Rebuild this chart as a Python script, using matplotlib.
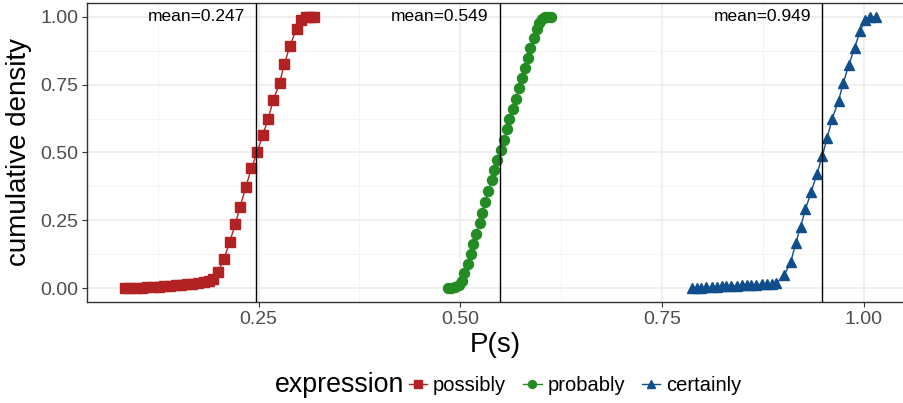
#!/usr/bin/env python3

import matplotlib
matplotlib.use("Agg")
import matplotlib.pyplot as plt
from matplotlib.lines import Line2D
from matplotlib.ticker import MultipleLocator

# --- data ---
expressions = ["possibly", "probably", "certainly"]
means = [0.247, 0.549, 0.949]

possibly_p = [0.084, 0.091, 0.098, 0.105, 0.112, 0.119, 0.126, 0.133, 0.140,
              0.147, 0.154, 0.161, 0.168, 0.175, 0.182, 0.189, 0.194,
              0.200, 0.207, 0.214, 0.221, 0.227, 0.234, 0.241, 0.248, 0.255,
              0.262, 0.268, 0.276, 0.282, 0.289, 0.297, 0.303, 0.309, 0.314, 0.319]
possibly_cd = [0.000, 0.000, 0.001, 0.002, 0.003, 0.004, 0.005, 0.006, 0.008,
               0.010, 0.012, 0.014, 0.017, 0.020, 0.023, 0.027, 0.033,
               0.061, 0.107, 0.169, 0.235, 0.300, 0.372, 0.441, 0.500, 0.563,
               0.625, 0.692, 0.756, 0.828, 0.894, 0.957, 0.990, 1.000, 1.000, 1.000]

probably_p = [0.485, 0.489, 0.494, 0.498, 0.502, 0.505, 0.509, 0.513, 0.516,
              0.520, 0.524, 0.527, 0.531, 0.535, 0.539, 0.542, 0.546, 0.550,
              0.554, 0.558, 0.561, 0.565, 0.569, 0.573, 0.576, 0.580, 0.584,
              0.587, 0.591, 0.595, 0.598, 0.601, 0.605, 0.609, 0.613]
probably_cd = [0.000, 0.000, 0.004, 0.012, 0.027, 0.055, 0.089, 0.125, 0.163,
               0.201, 0.239, 0.278, 0.318, 0.357, 0.397, 0.434, 0.472, 0.509,
               0.547, 0.585, 0.622, 0.660, 0.698, 0.736, 0.774, 0.810, 0.847,
               0.885, 0.921, 0.954, 0.977, 0.991, 0.999, 1.000, 1.000]

certainly_p = [0.787, 0.793, 0.799, 0.805, 0.812, 0.818, 0.824, 0.830, 0.836,
               0.843, 0.849, 0.855, 0.861, 0.867, 0.874, 0.880, 0.886, 0.892,
               0.902, 0.910, 0.916, 0.922, 0.928, 0.935, 0.942, 0.949, 0.955,
               0.961, 0.969, 0.975, 0.982, 0.989, 0.996, 1.002, 1.008, 1.016]
certainly_cd = [0.000, 0.001, 0.002, 0.003, 0.004, 0.005, 0.006, 0.007, 0.008,
                0.009, 0.010, 0.011, 0.012, 0.013, 0.014, 0.015, 0.016, 0.018,
                0.049, 0.098, 0.166, 0.227, 0.291, 0.353, 0.419, 0.488, 0.554,
                0.623, 0.690, 0.758, 0.824, 0.887, 0.948, 0.990, 1.000, 1.000]

x_ticks = [0.25, 0.50, 0.75, 1.00]
y_ticks = [0.00, 0.25, 0.50, 0.75, 1.00]

colors = ["#B22222", "#228B22", "#104E8B"]
markers = ["s", "o", "^"]
msizes = [7.0, 7.2, 7.8]


def main() -> int:
    plt.rcParams["font.family"] = ["Liberation Sans", "DejaVu Sans"]

    fig = plt.figure(figsize=(9.04, 4.03), dpi=100)
    ax = fig.add_axes([0.0966, 0.2514, 0.9034, 0.7404])

    series = [
        (possibly_p, possibly_cd),
        (probably_p, probably_cd),
        (certainly_p, certainly_cd),
    ]

    # grid first so it sits under everything
    ax.set_axisbelow(True)
    ax.xaxis.set_minor_locator(MultipleLocator(0.125))
    ax.yaxis.set_minor_locator(MultipleLocator(0.125))
    ax.grid(which="major", color="#EBEBEB", lw=1.1)
    ax.grid(which="minor", color="#F2F2F2", lw=0.6)

    for (xs, ys), c, m, ms in zip(series, colors, markers, msizes):
        ax.plot(xs, ys, color=c, lw=1.0, marker=m, ms=ms, mec=c, mfc=c, zorder=3)

    for mu in means:
        ax.axvline(mu, color="black", lw=1.0, zorder=4)
        ax.annotate(f"mean={mu:.3f}", xy=(mu, 1.0), xytext=(-8, 0),
                    textcoords="offset points", ha="right", va="center",
                    fontsize=12.5, color="black")

    ax.set_xlim(0.0376, 1.0502)
    ax.set_ylim(-0.05, 1.05)
    ax.set_xticks(x_ticks, [f"{v:.2f}" for v in x_ticks])
    ax.set_yticks(y_ticks, [f"{v:.2f}" for v in y_ticks])
    ax.tick_params(axis="both", which="major", labelsize=14, labelcolor="#4D4D4D",
                   color="#333333", length=3.5, width=0.8, pad=3)
    ax.tick_params(axis="both", which="minor", length=0)

    for side in ["left", "bottom", "top"]:
        ax.spines[side].set_color("#333333")
        ax.spines[side].set_linewidth(1.0)
    ax.spines["right"].set_visible(False)

    ax.set_xlabel("P(s)", fontsize=20, labelpad=3)
    ax.set_ylabel("cumulative density", fontsize=20, labelpad=6)

    # horizontal legend with the title on the left, like ggplot's bottom legend
    handles = [
        Line2D([], [], color=c, marker=m, ms=ms - 1.5, lw=1.0, label=lab)
        for lab, c, m, ms in zip(expressions, colors, markers, msizes)
    ]
    leg_y = 0.044
    fig.text(275 / 904, leg_y, "expression", fontsize=19.3, ha="left", va="center")
    fig.legend(handles=handles, loc="center left", bbox_to_anchor=(409 / 904, leg_y),
               ncol=3, frameon=False, fontsize=14.5, handlelength=0.9,
               handletextpad=0.3, columnspacing=0.85, borderpad=0, borderaxespad=0)

    fig.savefig("out.png", dpi=100)
    return 0


if __name__ == "__main__":
    raise SystemExit(main())
